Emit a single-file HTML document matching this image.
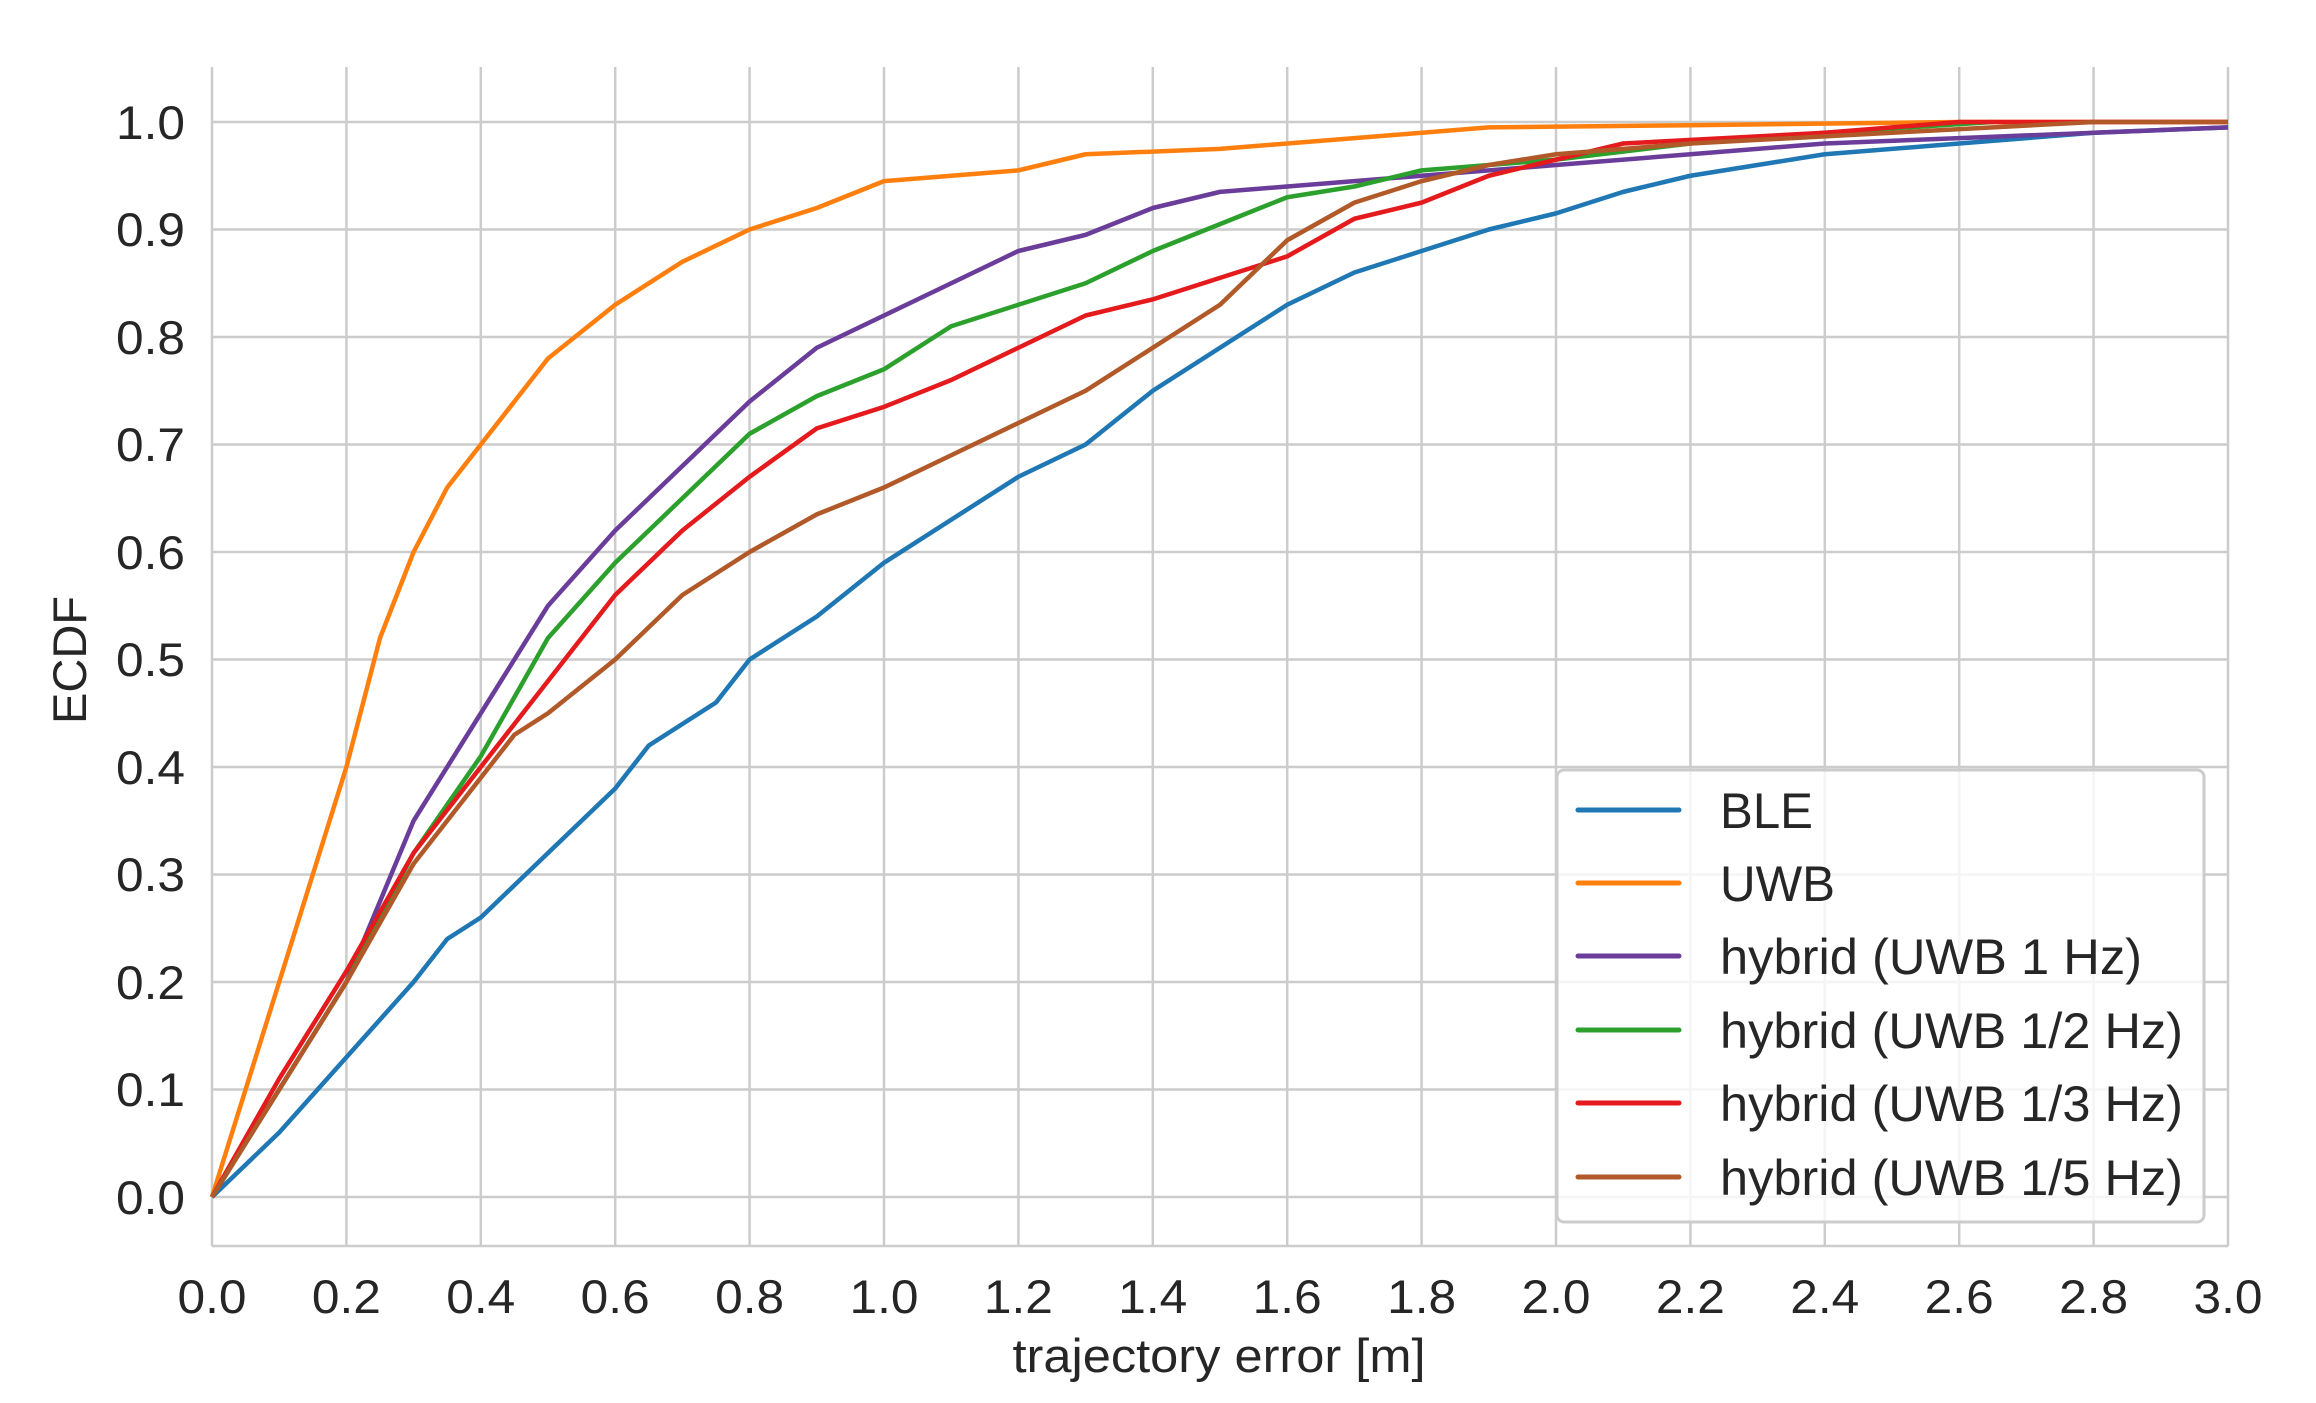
<!DOCTYPE html><html><head><style>body{margin:0;background:#fff}svg{display:block}text{font-family:"Liberation Sans",Arial,sans-serif;fill:#262626}</style></head><body>
<svg width="2316" height="1403" viewBox="0 0 2316 1403" xmlns="http://www.w3.org/2000/svg">
<g stroke="#cccccc" stroke-width="2.5">
<line x1="212" y1="1197" x2="2228" y2="1197"/><line x1="212" y1="1089.5" x2="2228" y2="1089.5"/><line x1="212" y1="982" x2="2228" y2="982"/><line x1="212" y1="874.5" x2="2228" y2="874.5"/><line x1="212" y1="767" x2="2228" y2="767"/><line x1="212" y1="659.5" x2="2228" y2="659.5"/><line x1="212" y1="552" x2="2228" y2="552"/><line x1="212" y1="444.5" x2="2228" y2="444.5"/><line x1="212" y1="337" x2="2228" y2="337"/><line x1="212" y1="229.5" x2="2228" y2="229.5"/><line x1="212" y1="122" x2="2228" y2="122"/>
<line x1="212" y1="67" x2="212" y2="1246"/><line x1="346.4" y1="67" x2="346.4" y2="1246"/><line x1="480.8" y1="67" x2="480.8" y2="1246"/><line x1="615.2" y1="67" x2="615.2" y2="1246"/><line x1="749.6" y1="67" x2="749.6" y2="1246"/><line x1="884" y1="67" x2="884" y2="1246"/><line x1="1018.4" y1="67" x2="1018.4" y2="1246"/><line x1="1152.8" y1="67" x2="1152.8" y2="1246"/><line x1="1287.2" y1="67" x2="1287.2" y2="1246"/><line x1="1421.6" y1="67" x2="1421.6" y2="1246"/><line x1="1556" y1="67" x2="1556" y2="1246"/><line x1="1690.4" y1="67" x2="1690.4" y2="1246"/><line x1="1824.8" y1="67" x2="1824.8" y2="1246"/><line x1="1959.2" y1="67" x2="1959.2" y2="1246"/><line x1="2093.6" y1="67" x2="2093.6" y2="1246"/><line x1="2228" y1="67" x2="2228" y2="1246"/>
<line x1="212" y1="1246" x2="2228" y2="1246"/>
</g>
<g transform="translate(212,1197) scale(672,-1075)" fill="none" stroke-width="4.5" stroke-linejoin="round">
<polyline vector-effect="non-scaling-stroke" stroke="#1f77b4" points="0,0 0.1,0.06 0.2,0.13 0.3,0.2 0.35,0.24 0.4,0.26 0.5,0.32 0.6,0.38 0.65,0.42 0.7,0.44 0.75,0.46 0.8,0.5 0.9,0.54 1.0,0.59 1.1,0.63 1.2,0.67 1.3,0.70 1.4,0.75 1.5,0.79 1.6,0.83 1.7,0.86 1.8,0.88 1.9,0.9 2.0,0.915 2.1,0.935 2.2,0.95 2.4,0.97 2.6,0.98 2.8,0.99 3.0,0.995"/>
<polyline vector-effect="non-scaling-stroke" stroke="#ff7f0e" points="0,0 0.05,0.1 0.1,0.2 0.15,0.3 0.2,0.4 0.25,0.52 0.3,0.6 0.35,0.66 0.4,0.7 0.45,0.74 0.5,0.78 0.55,0.805 0.6,0.83 0.7,0.87 0.8,0.9 0.9,0.92 1.0,0.945 1.1,0.95 1.2,0.955 1.3,0.97 1.5,0.975 1.7,0.985 1.9,0.995 2.2,0.997 2.6,1.0 3,1"/>
<polyline vector-effect="non-scaling-stroke" stroke="#6a3d9a" points="0,0 0.1,0.1 0.2,0.2 0.3,0.35 0.4,0.45 0.5,0.55 0.6,0.62 0.7,0.68 0.8,0.74 0.9,0.79 1.0,0.82 1.1,0.85 1.2,0.88 1.3,0.895 1.4,0.92 1.5,0.935 1.6,0.94 1.8,0.95 2.0,0.96 2.2,0.97 2.4,0.98 2.6,0.985 3,0.995"/>
<polyline vector-effect="non-scaling-stroke" stroke="#2ca02c" points="0,0 0.1,0.1 0.2,0.2 0.3,0.32 0.4,0.41 0.5,0.52 0.6,0.59 0.7,0.65 0.8,0.71 0.9,0.745 1.0,0.77 1.1,0.81 1.2,0.83 1.3,0.85 1.4,0.88 1.5,0.905 1.6,0.93 1.7,0.94 1.8,0.955 2.0,0.965 2.2,0.98 2.4,0.99 2.65,1.0"/>
<polyline vector-effect="non-scaling-stroke" stroke="#e41a1c" points="0,0 0.1,0.11 0.2,0.21 0.3,0.32 0.4,0.4 0.5,0.48 0.6,0.56 0.7,0.62 0.8,0.67 0.9,0.715 1.0,0.735 1.1,0.76 1.2,0.79 1.3,0.82 1.4,0.835 1.5,0.855 1.6,0.875 1.7,0.91 1.8,0.925 1.9,0.95 2.0,0.965 2.1,0.98 2.4,0.99 2.6,1.0 3,1"/>
<polyline vector-effect="non-scaling-stroke" stroke="#b15928" points="0,0 0.1,0.1 0.2,0.2 0.3,0.31 0.4,0.39 0.45,0.43 0.5,0.45 0.6,0.5 0.7,0.56 0.8,0.6 0.9,0.635 1.0,0.66 1.1,0.69 1.2,0.72 1.3,0.75 1.4,0.79 1.5,0.83 1.6,0.89 1.7,0.925 1.8,0.945 1.9,0.96 2.0,0.97 2.2,0.98 2.5,0.99 2.8,1.0 3,1"/>
</g>
<g font-size="47" text-anchor="end">
<text x="185" y="1214" textLength="69" lengthAdjust="spacingAndGlyphs">0.0</text><text x="185" y="1106" textLength="69" lengthAdjust="spacingAndGlyphs">0.1</text><text x="185" y="999" textLength="69" lengthAdjust="spacingAndGlyphs">0.2</text><text x="185" y="891" textLength="69" lengthAdjust="spacingAndGlyphs">0.3</text><text x="185" y="784" textLength="69" lengthAdjust="spacingAndGlyphs">0.4</text><text x="185" y="676" textLength="69" lengthAdjust="spacingAndGlyphs">0.5</text><text x="185" y="569" textLength="69" lengthAdjust="spacingAndGlyphs">0.6</text><text x="185" y="461" textLength="69" lengthAdjust="spacingAndGlyphs">0.7</text><text x="185" y="354" textLength="69" lengthAdjust="spacingAndGlyphs">0.8</text><text x="185" y="246" textLength="69" lengthAdjust="spacingAndGlyphs">0.9</text><text x="185" y="139" textLength="69" lengthAdjust="spacingAndGlyphs">1.0</text>
</g>
<g font-size="47" text-anchor="middle">
<text x="212" y="1313" textLength="69" lengthAdjust="spacingAndGlyphs">0.0</text><text x="346.4" y="1313" textLength="69" lengthAdjust="spacingAndGlyphs">0.2</text><text x="480.8" y="1313" textLength="69" lengthAdjust="spacingAndGlyphs">0.4</text><text x="615.2" y="1313" textLength="69" lengthAdjust="spacingAndGlyphs">0.6</text><text x="749.6" y="1313" textLength="69" lengthAdjust="spacingAndGlyphs">0.8</text><text x="884" y="1313" textLength="69" lengthAdjust="spacingAndGlyphs">1.0</text><text x="1018.4" y="1313" textLength="69" lengthAdjust="spacingAndGlyphs">1.2</text><text x="1152.8" y="1313" textLength="69" lengthAdjust="spacingAndGlyphs">1.4</text><text x="1287.2" y="1313" textLength="69" lengthAdjust="spacingAndGlyphs">1.6</text><text x="1421.6" y="1313" textLength="69" lengthAdjust="spacingAndGlyphs">1.8</text><text x="1556" y="1313" textLength="69" lengthAdjust="spacingAndGlyphs">2.0</text><text x="1690.4" y="1313" textLength="69" lengthAdjust="spacingAndGlyphs">2.2</text><text x="1824.8" y="1313" textLength="69" lengthAdjust="spacingAndGlyphs">2.4</text><text x="1959.2" y="1313" textLength="69" lengthAdjust="spacingAndGlyphs">2.6</text><text x="2093.6" y="1313" textLength="69" lengthAdjust="spacingAndGlyphs">2.8</text><text x="2228" y="1313" textLength="69" lengthAdjust="spacingAndGlyphs">3.0</text>
<text x="1219" y="1372" textLength="413" lengthAdjust="spacingAndGlyphs">trajectory error [m]</text>
<text transform="translate(86,660) rotate(-90)" textLength="128" lengthAdjust="spacingAndGlyphs">ECDF</text>
</g>
<rect x="1557" y="770" width="647" height="452" rx="7" fill="#fff" fill-opacity="0.8" stroke="#cccccc" stroke-width="3"/>
<g stroke-width="5" stroke-linecap="round">
<line x1="1578" y1="810" x2="1679" y2="810" stroke="#1f77b4"/><line x1="1578" y1="883" x2="1679" y2="883" stroke="#ff7f0e"/><line x1="1578" y1="956" x2="1679" y2="956" stroke="#6a3d9a"/><line x1="1578" y1="1030" x2="1679" y2="1030" stroke="#2ca02c"/><line x1="1578" y1="1103" x2="1679" y2="1103" stroke="#e41a1c"/><line x1="1578" y1="1177" x2="1679" y2="1177" stroke="#b15928"/>
</g>
<g font-size="50">
<text x="1720" y="828" textLength="93" lengthAdjust="spacingAndGlyphs">BLE</text><text x="1720" y="901" textLength="115" lengthAdjust="spacingAndGlyphs">UWB</text><text x="1720" y="974" textLength="422" lengthAdjust="spacingAndGlyphs">hybrid (UWB 1 Hz)</text><text x="1720" y="1048" textLength="463" lengthAdjust="spacingAndGlyphs">hybrid (UWB 1/2 Hz)</text><text x="1720" y="1121" textLength="463" lengthAdjust="spacingAndGlyphs">hybrid (UWB 1/3 Hz)</text><text x="1720" y="1195" textLength="463" lengthAdjust="spacingAndGlyphs">hybrid (UWB 1/5 Hz)</text>
</g>
</svg></body></html>
